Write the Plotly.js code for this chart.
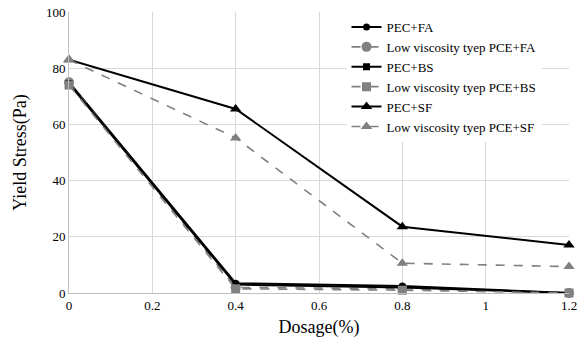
<!DOCTYPE html>
<html><head><meta charset="utf-8">
<script src="https://cdn.plot.ly/plotly-3.0.1.min.js"></script>
<style>html,body{margin:0;padding:0;background:#fff}#c{width:581px;height:338px}</style>
</head><body><div id="c"></div>
<script>
const dosage = [0, 0.4, 0.8, 1.2];
const pecFA = [75, 3.5, 2.5, 0];
const lowFA = [75, 2, 1.5, 0];
const pecBS = [74.5, 3, 2, 0];
const lowBS = [74, 1.5, 1, 0];
const pecSF = [83, 65.5, 23.6, 17.1];
const lowSF = [83, 55.2, 10.6, 9.4];
const names = ["PEC+FA","Low viscosity tyep PCE+FA","PEC+BS","Low viscosity tyep PCE+BS","PEC+SF","Low viscosity tyep PCE+SF"];
const series = [pecFA, lowFA, pecBS, lowBS, pecSF, lowSF];
const symbols = ["circle","circle","square","square","triangle-up","triangle-up"];
const traces = series.map((s,i)=>{
  const low = i%2===1;
  return {x: dosage, y: s, name: names[i], mode:"lines+markers", type:"scatter",
    line:{color: low?"#808080":"#000000", width: low?1.6:2, dash: low?"dash":"solid"},
    marker:{symbol: symbols[i], color: low?"#808080":"#000000", size: low?(i===3?9:10):(i===4?10:7)},
    cliponaxis:false};
});
const SERIF = "Liberation Serif, serif";
const layout = {
  width:581, height:338, paper_bgcolor:"#fff", plot_bgcolor:"#fff",
  margin:{l:69, r:12, t:12, b:45},
  font:{family:SERIF, size:13, color:"#000"},
  showlegend:true,
  legend:{x:0.555, y:1.0, xanchor:"left", yanchor:"top", bgcolor:"rgba(255,255,255,1)", borderwidth:0,
    font:{family:SERIF, size:13, color:"#000"}, tracegroupgap:0, itemwidth:30},
  xaxis:{range:[0,1.2], tickvals:[0,0.2,0.4,0.6,0.8,1,1.2], ticktext:["0","0.2","0.4","0.6","0.8","1","1.2"],
    showgrid:true, gridcolor:"#d9d9d9", gridwidth:1, zeroline:false, showline:true, linecolor:"#bfbfbf", linewidth:1,
    ticks:"", tickfont:{family:SERIF, size:13}, title:{text:"Dosage(%)", font:{family:SERIF, size:18}, standoff:8}},
  yaxis:{range:[0,100], tickvals:[0,20,40,60,80,100], showgrid:true, gridcolor:"#d9d9d9", gridwidth:1,
    zeroline:false, showline:true, linecolor:"#bfbfbf", linewidth:1, ticks:"", tickfont:{family:SERIF, size:13},
    title:{text:"Yield Stress(Pa)", font:{family:SERIF, size:18}, standoff:14}}
};
Plotly.newPlot("c", traces, layout, {displayModeBar:false, staticPlot:true});
</script></body></html>
